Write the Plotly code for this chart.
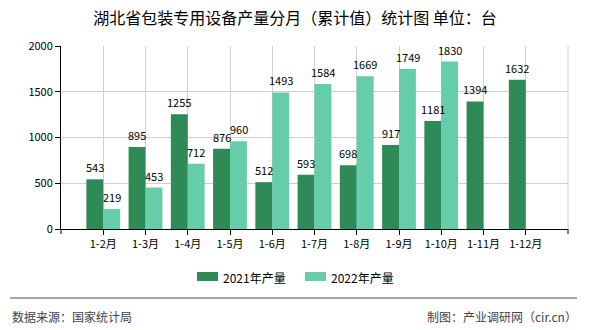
import plotly.graph_objects as go

categories = ["1-2月", "1-3月", "1-4月", "1-5月", "1-6月", "1-7月", "1-8月", "1-9月", "1-10月", "1-11月", "1-12月"]
values_2021 = [543, 895, 1255, 876, 512, 593, 698, 917, 1181, 1394, 1632]
values_2022 = [219, 453, 712, 960, 1493, 1584, 1669, 1749, 1830, None, None]
series_names = ["2021年产量", "2022年产量"]
colors = ["#2E8B57", "#66CDAA"]
yticks = [0, 500, 1000, 1500, 2000]

FONT = "Noto Sans CJK SC, DejaVu Sans, sans-serif"

fig = go.Figure()
for name, vals, col in zip(series_names, [values_2021, values_2022], colors):
    fig.add_trace(go.Bar(
        x=categories, y=vals, name=name, marker=dict(color=col, line=dict(width=0)),
        showlegend=False,
    ))

# value labels above bars
for vals, xs in [(values_2021, -8.5), (values_2022, 8.5)]:
    for c, v in zip(categories, vals):
        if v is None:
            continue
        fig.add_annotation(x=c, y=v, text=str(v), showarrow=False, xshift=xs, yshift=12,
                           xanchor="center", yanchor="middle",
                           font=dict(size=11, color="#000", family=FONT))

fig.update_layout(
    width=590, height=330,
    margin=dict(l=61, r=22, t=46, b=101),
    paper_bgcolor="white", plot_bgcolor="white",
    barmode="group", bargap=0.2, bargroupgap=0,
    font=dict(family=FONT, size=11, color="#000"),
    title=dict(text="湖北省包装专用设备产量分月（累计值）统计图 单位：台",
               x=0.5, xanchor="center", y=1 - 18 / 330, yanchor="middle",
               font=dict(size=16, color="#000", family=FONT)),
    xaxis=dict(type="category", range=[-1, 11], showgrid=True, gridcolor="#d0d0d0", gridwidth=1,
               showline=True, linecolor="#000", linewidth=1, ticks="outside", ticklen=5,
               tickcolor="#000", tickfont=dict(size=11, family=FONT), zeroline=False),
    yaxis=dict(range=[0, 2000], tickvals=yticks, showgrid=True, gridcolor="#d0d0d0", gridwidth=1,
               showline=True, linecolor="#000", linewidth=1, ticks="outside", ticklen=5,
               tickcolor="#000", tickfont=dict(size=11, family=FONT), zeroline=False),
)

# right border gridline
fig.add_shape(type="line", xref="paper", yref="paper", x0=1, x1=1, y0=0, y1=1,
              line=dict(color="#d0d0d0", width=1))
# end ticks on x axis
for xp in [0, 1]:
    fig.add_shape(type="line", xref="paper", yref="paper", x0=xp, x1=xp, y0=0, y1=-5/183,
                  line=dict(color="#000", width=1))

# manual legend
legend_items = [(197, series_names[0], colors[0]), (305, series_names[1], colors[1])]
for x0, name, col in legend_items:
    fig.add_shape(type="rect", xref="paper", yref="paper",
                  x0=(x0 - 61) / 507, x1=(x0 + 21 - 61) / 507,
                  y0=(229 - 281) / 183, y1=(229 - 272) / 183,
                  fillcolor=col, line=dict(width=0))
    fig.add_annotation(xref="paper", yref="paper", x=(x0 + 24 - 61) / 507, y=(229 - 277) / 183,
                       text=name, showarrow=False, xanchor="left", yanchor="middle",
                       font=dict(size=12, color="#000", family=FONT))

# separator line
fig.add_shape(type="line", xref="paper", yref="paper",
              x0=(10 - 61) / 507, x1=(577 - 61) / 507, y0=(229 - 298) / 183, y1=(229 - 298) / 183,
              line=dict(color="#888", width=1.5))
fig.add_annotation(xref="paper", yref="paper", x=(10 - 61) / 507, y=(229 - 316) / 183,
                   text="数据来源：国家统计局", showarrow=False, xanchor="left", yanchor="middle",
                   font=dict(size=12, color="#444", family=FONT))
fig.add_annotation(xref="paper", yref="paper", x=(579 - 61) / 507, y=(229 - 316) / 183,
                   text="制图：产业调研网（cir.cn）", showarrow=False, xanchor="right", yanchor="middle",
                   font=dict(size=12, color="#444", family=FONT))

fig.write_html("out.html")
